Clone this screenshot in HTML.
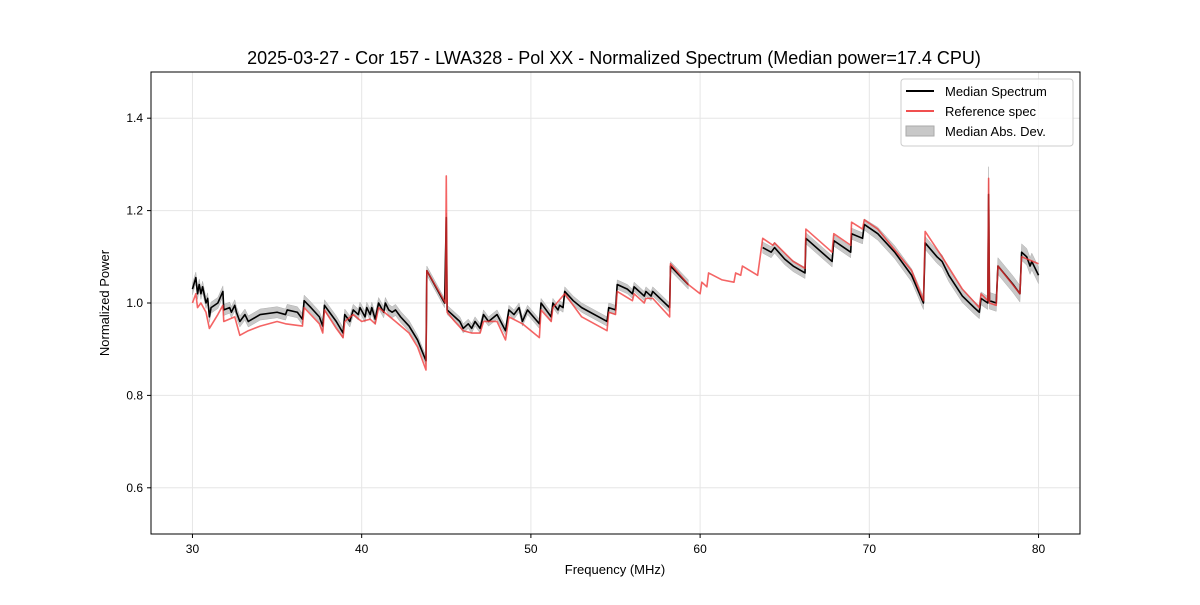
<!DOCTYPE html>
<html><head><meta charset="utf-8"><style>
body{margin:0;background:#fff;}
svg text{font-family:"Liberation Sans","DejaVu Sans",sans-serif;}
</style></head><body>
<svg id="chart" width="1200" height="600" xmlns="http://www.w3.org/2000/svg">
<rect width="1200" height="600" fill="#fff"/>
<text x="614" y="64" text-anchor="middle" font-size="18">2025-03-27 - Cor 157 - LWA328 - Pol XX - Normalized Spectrum (Median power=17.4 CPU)</text>
<g id="grid"></g><g id="plot"></g><g id="axes"></g>
<rect x="151" y="72" width="929" height="462" fill="none" stroke="#000" stroke-width="1"/>
<text x="615" y="574" text-anchor="middle" font-size="13">Frequency (MHz)</text>
<text transform="translate(109,303) rotate(-90)" text-anchor="middle" font-size="13">Normalized Power</text>
<g>
<rect x="901" y="79" width="172" height="67" rx="3" fill="#fff" fill-opacity="0.8" stroke="#ccc"/>
<g><line x1="906" y1="91" x2="934" y2="91" stroke="#000" stroke-width="2"/><text x="945" y="96" font-size="13">Median Spectrum</text></g>
<g><line x1="906" y1="111" x2="934" y2="111" stroke="#f05050" stroke-width="2"/><text x="945" y="116" font-size="13">Reference spec</text></g>
<g><rect x="906" y="126" width="28" height="10" fill="#c8c8c8" stroke="#aaa"/><text x="945" y="136" font-size="13">Median Abs. Dev.</text></g>
</g>
</svg>
<script>
const xTicks=[30,40,50,60,70,80];
const yTicks=[0.6,0.8,1.0,1.2,1.4];
const medianSeg1=[[30,1.03],[30.2,1.055],[30.3,1.02],[30.4,1.04],[30.5,1.02],[30.6,1.035],[30.8,1.0],[30.9,1.01],[31.0,0.97],[31.1,0.99],[31.5,1.0],[31.8,1.025],[31.85,0.985],[32.2,0.99],[32.3,0.98],[32.5,0.995],[32.6,0.98],[32.8,0.96],[33.1,0.975],[33.3,0.96],[34,0.975],[35,0.98],[35.5,0.975],[35.6,0.985],[36.2,0.98],[36.5,0.965],[36.6,1.005],[37.0,0.99],[37.5,0.97],[37.7,0.95],[37.8,0.995],[38.5,0.96],[38.9,0.935],[39.0,0.975],[39.3,0.96],[39.5,0.985],[39.8,0.975],[39.9,0.99],[40.2,0.97],[40.3,0.99],[40.5,0.975],[40.6,0.99],[40.8,0.965],[41.0,1.0],[41.3,0.98],[41.4,1.0],[41.6,0.985],[41.8,0.98],[42.0,0.985],[42.3,0.97],[42.8,0.95],[43.3,0.92],[43.8,0.875],[43.85,1.07],[44.9,1.0],[45.0,1.185],[45.05,0.985],[45.5,0.97],[45.8,0.96],[46.0,0.945],[46.3,0.955],[46.5,0.945],[46.7,0.96],[47.0,0.945],[47.2,0.975],[47.5,0.96],[48.0,0.975],[48.5,0.94],[48.7,0.985],[49,0.975],[49.3,0.99],[49.5,0.96],[49.8,0.985],[50.5,0.955],[50.6,1.0],[50.9,0.985],[51.2,0.97],[51.3,1.0],[51.6,0.985],[51.7,0.995],[51.9,0.99],[52.0,1.025],[52.5,1.005],[53.0,0.99],[54.0,0.97],[54.5,0.96],[54.6,0.99],[55,0.985],[55.1,1.04],[55.7,1.03],[56,1.02],[56.1,1.035],[56.7,1.015],[56.8,1.025],[57.1,1.015],[57.2,1.025],[58.2,0.99],[58.25,1.08],[59.3,1.04]];
const medianSeg2=[[63.7,1.12],[64.2,1.11],[64.4,1.12],[65.0,1.095],[65.5,1.08],[66.2,1.065],[66.25,1.14],[67.8,1.09],[67.9,1.135],[68.5,1.12],[68.9,1.11],[68.95,1.15],[69.6,1.14],[69.7,1.17],[70.5,1.15],[71.5,1.11],[72.5,1.06],[73.2,1.0],[73.3,1.13],[74,1.1],[74.3,1.09],[74.7,1.06],[75.5,1.015],[76.2,0.99],[76.5,0.98],[76.6,1.01],[77.0,1.0],[77.05,1.235],[77.1,1.005],[77.5,1.0],[77.6,1.08],[78.5,1.04],[78.9,1.02],[79.0,1.11],[79.3,1.1],[79.5,1.08],[79.6,1.09],[80,1.06]];
const madRanges=[[30,43,0.012],[43,59.5,0.01],[63,70,0.012],[70,77.03,0.014],[77.03,77.07,0.06],[77.07,80.1,0.018]];
const reference=[[30,1.0],[30.2,1.02],[30.3,0.99],[30.5,1.0],[30.8,0.98],[31,0.945],[31.5,0.975],[31.8,0.995],[31.85,0.96],[32.5,0.97],[32.8,0.93],[33.3,0.94],[34,0.95],[35,0.96],[35.5,0.955],[36.5,0.95],[36.6,0.99],[37.5,0.955],[37.7,0.935],[37.8,0.985],[38.5,0.945],[38.9,0.925],[39.0,0.96],[39.5,0.975],[40,0.96],[40.5,0.965],[40.8,0.955],[41,0.99],[41.5,0.975],[42,0.96],[42.8,0.935],[43.3,0.905],[43.8,0.855],[43.85,1.07],[44.95,1.0],[45.0,1.275],[45.05,0.98],[45.5,0.96],[46,0.94],[46.5,0.935],[47,0.935],[47.2,0.96],[48,0.96],[48.5,0.92],[48.7,0.97],[49.5,0.955],[50.5,0.925],[50.6,0.985],[51.2,0.96],[51.3,0.99],[52.0,1.02],[53,0.97],[54.5,0.94],[54.6,0.98],[55,0.975],[55.1,1.025],[56,1.005],[56.1,1.02],[56.7,1.0],[56.8,1.01],[57.2,1.01],[58.2,0.97],[58.25,1.085],[59.3,1.04],[60,1.02],[60.1,1.045],[60.4,1.035],[60.5,1.065],[61.3,1.05],[62.0,1.045],[62.1,1.065],[62.4,1.06],[62.5,1.08],[63.4,1.06],[63.7,1.14],[64.3,1.125],[64.4,1.13],[65.5,1.09],[66.2,1.075],[66.25,1.16],[67.8,1.11],[67.9,1.15],[68.9,1.125],[68.95,1.175],[69.6,1.16],[69.7,1.18],[70.5,1.16],[72.5,1.07],[73.2,1.005],[73.3,1.155],[74.3,1.1],[75.5,1.03],[76.5,0.99],[76.6,1.02],[77.0,1.005],[77.05,1.27],[77.1,1.0],[77.5,0.995],[77.6,1.08],[78.9,1.02],[79.0,1.1],[80,1.085]];

const NS="http://www.w3.org/2000/svg";
const X0=151,X1=1080,Y0=72,Y1=534,xmin=27.55,xmax=82.45,ymin=0.5,ymax=1.5;
const sx=f=>X0+(f-xmin)/(xmax-xmin)*(X1-X0);
const sy=v=>Y1-(v-ymin)/(ymax-ymin)*(Y1-Y0);
function mk(tag,attrs,parent){const e=document.createElementNS(NS,tag);for(const k in attrs)e.setAttribute(k,attrs[k]);parent.appendChild(e);return e;}
const grid=document.getElementById('grid'),axes=document.getElementById('axes'),plot=document.getElementById('plot');
xTicks.forEach(t=>{const x=sx(t);
 const g=mk('line',{x1:x,x2:x,y1:Y0,y2:Y1,stroke:'#e6e6e6'},grid);
 
 
 mk('line',{x1:x,x2:x,y1:Y1,y2:Y1+4,stroke:'#000'},axes);
 const tx=mk('text',{x:x,y:Y1+19,'text-anchor':'middle','font-size':'12'},axes);tx.textContent=t;
 
 });
yTicks.forEach(t=>{const y=sy(t);
 const g=mk('line',{x1:X0,x2:X1,y1:y,y2:y,stroke:'#e6e6e6'},grid);
 
 
 mk('line',{x1:X0-4,x2:X0,y1:y,y2:y,stroke:'#000'},axes);
 const tx=mk('text',{x:X0-8,y:y+4,'text-anchor':'end','font-size':'12'},axes);tx.textContent=t.toFixed(1);
 
 });
function dev(f){for(const r of madRanges)if(f>=r[0]&&f<r[1])return r[2];return 0.012;}
function band(seg){const up=seg.map(p=>sx(p[0])+','+sy(p[1]+dev(p[0])));const dn=seg.slice().reverse().map(p=>sx(p[0])+','+sy(p[1]-dev(p[0])));
 const e=mk('polygon',{points:up.concat(dn).join(' '),fill:'#c8c8c8','stroke':'#b0b0b0','stroke-width':0.5},plot);
 
 }
band(medianSeg1);band(medianSeg2);
function line(seg,col,op,name){const e=mk('polyline',{points:seg.map(p=>sx(p[0])+','+sy(p[1])).join(' '),fill:'none',stroke:col,'stroke-width':1.6,'stroke-opacity':op,'stroke-linejoin':'round'},plot);
 
 }
line(medianSeg1,'#000',1,'median-spectrum-line');line(medianSeg2,'#000',1,'median-spectrum-line');
line(reference,'#f03030',0.75,'reference-spectrum-line');
</script>
</body></html>
